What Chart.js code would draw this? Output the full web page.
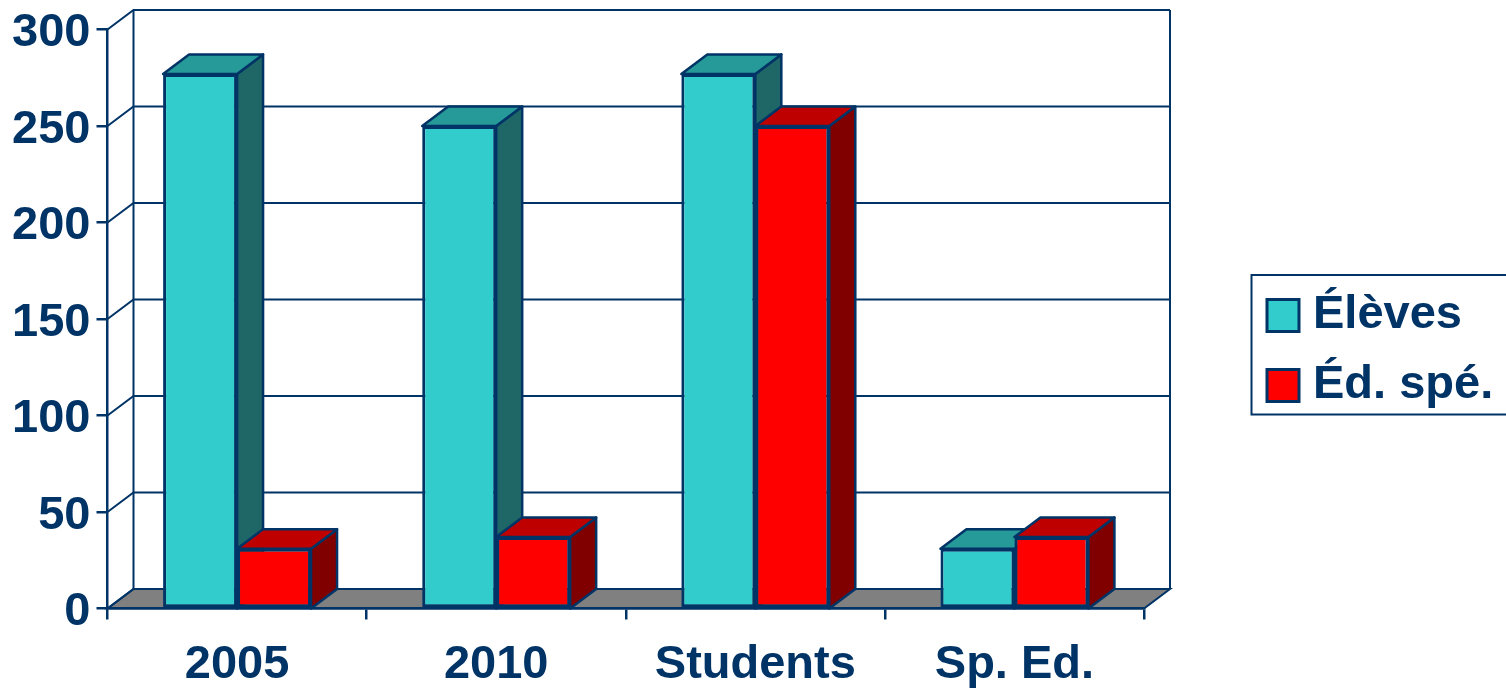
<!DOCTYPE html>
<html>
<head>
<meta charset="utf-8">
<style>
  html, body { margin: 0; padding: 0; background: #fff; overflow: hidden; }
  #box { position: relative; width: 1506px; height: 689px; }
</style>
<script src="https://cdn.jsdelivr.net/npm/chart.js@4"></script>
</head>
<body>
<div id="box"><canvas id="myChart"></canvas></div>
<script>
const categories = ['2005', '2010', 'Students', 'Sp. Ed.'];
const eleves = [277, 250, 277, 31];
const edSpe = [31, 37, 250, 37];
const seriesNames = ['Élèves', 'Éd. spé.'];
const yTicks = [0, 50, 100, 150, 200, 250, 300];

const navy = '#003366';
const fontName = '"Liberation Sans", Arial, sans-serif';
const depthX = 26;
const depthY = -19.5;

function line(ctx, pts) {
    ctx.beginPath();
    ctx.moveTo(pts[0][0], pts[0][1]);
    for (let i = 1; i < pts.length; i++) ctx.lineTo(pts[i][0], pts[i][1]);
}

// top and side faces of the bars of one dataset
function drawFaces(chart, index) {
    const ctx = chart.ctx;
    const ds = chart.data.datasets[index];
    const zero = chart.scales.y.getPixelForValue(0);
    ctx.save();
    ctx.strokeStyle = navy;
    ctx.lineWidth = 2.5;
    ctx.lineJoin = 'round';
    chart.getDatasetMeta(index).data.forEach(bar => {
        const l = bar.x - bar.width / 2;
        const r = bar.x + bar.width / 2;
        line(ctx, [[r, bar.y], [r + depthX, bar.y + depthY], [r + depthX, zero + depthY], [r, zero]]);
        ctx.closePath();
        ctx.fillStyle = ds.sideColor;
        ctx.fill();
        ctx.stroke();
        line(ctx, [[l, bar.y], [l + depthX, bar.y + depthY], [r + depthX, bar.y + depthY], [r, bar.y]]);
        ctx.closePath();
        ctx.fillStyle = ds.topColor;
        ctx.fill();
        ctx.stroke();
    });
    ctx.restore();
}

// back wall, side wall and floor of the 3d box
const walls = {
    id: 'walls',
    beforeDraw(chart) {
        const ctx = chart.ctx;
        const a = chart.chartArea;
        const y = chart.scales.y;
        ctx.save();
        ctx.fillStyle = '#fff';
        ctx.fillRect(0, 0, chart.width, chart.height);
        line(ctx, [[a.left, a.bottom], [a.left + depthX, a.bottom + depthY], [a.right + depthX, a.bottom + depthY], [a.right, a.bottom]]);
        ctx.closePath();
        ctx.fillStyle = '#808080';
        ctx.fill();
        ctx.strokeStyle = navy;
        ctx.lineWidth = 2;
        ctx.stroke();
        yTicks.forEach(t => {
            const py = y.getPixelForValue(t);
            line(ctx, [[a.left, py], [a.left + depthX, py + depthY], [a.right + depthX, py + depthY]]);
            ctx.stroke();
        });
        line(ctx, [[a.left + depthX, a.top + depthY], [a.left + depthX, a.bottom + depthY]]);
        ctx.stroke();
        line(ctx, [[a.right + depthX, a.top + depthY], [a.right + depthX, a.bottom + depthY]]);
        ctx.stroke();
        ctx.restore();
    },
    afterLayout(chart) {
        // move the legend to its frame on the right
        const l = chart.legend;
        l.left = 1253.5;
        l.right = 1506;
        l.top = 269;
        l.bottom = 689;
    },
    afterDraw(chart) {
        const ctx = chart.ctx;
        ctx.save();
        ctx.strokeStyle = navy;
        ctx.lineWidth = 2;
        ctx.strokeRect(1251.5, 275, 260, 139.5);
        ctx.restore();
    },
    // chart.js paints the last dataset first, so the teal faces go under everything
    beforeDatasetsDraw(chart) {
        drawFaces(chart, 0);
    },
    afterDatasetDraw(chart, args) {
        if (args.index === 1) drawFaces(chart, 1);
    }
};

new Chart('myChart', {
    type: 'bar',
    data: {
        labels: categories,
        datasets: [{
            label: seriesNames[0],
            data: eleves,
            backgroundColor: '#33CCCC',
            sideColor: '#1F6666',
            topColor: '#269999',
            borderColor: navy,
            borderWidth: 3,
            borderSkipped: false
        }, {
            label: seriesNames[1],
            data: edSpe,
            backgroundColor: '#FF0000',
            sideColor: '#800000',
            topColor: '#BF0000',
            borderColor: navy,
            borderWidth: 3,
            borderSkipped: false
        }]
    },
    options: {
        responsive: true,
        maintainAspectRatio: false,
        animation: false,
        categoryPercentage: 0.571,
        barPercentage: 1,
        layout: { padding: { top: 29.5, right: 362, left: 0, bottom: 0 } },
        plugins: {
            tooltip: { enabled: false },
            legend: {
                position: 'chartArea',
                align: 'start',
                labels: {
                    color: navy,
                    font: { family: fontName, size: 47, weight: 'bold' },
                    usePointStyle: true,
                    pointStyle: 'rect',
                    boxWidth: 13,
                    boxHeight: 32,
                    padding: 23
                }
            }
        },
        scales: {
            x: {
                afterFit(s) { s.height = 80.5; s.paddingLeft = 0; s.paddingRight = 0; },
                grid: { drawOnChartArea: false, color: navy, lineWidth: 2.5, tickLength: 11 },
                border: { color: navy, width: 2.5 },
                ticks: { color: navy, padding: 17.5, maxRotation: 0, font: { family: fontName, size: 47, weight: 'bold' } }
            },
            y: {
                min: 0,
                max: 300,
                afterFit(s) { s.width = 107.5; s.paddingTop = 0; s.paddingBottom = 0; },
                afterBuildTicks(s) { s.ticks = yTicks.map(v => ({ value: v })); },
                grid: { drawOnChartArea: false, color: navy, lineWidth: 2.5, tickLength: 11 },
                border: { color: navy, width: 2.5 },
                ticks: { color: navy, padding: 6, labelOffset: 4, font: { family: fontName, size: 47, weight: 'bold' } }
            }
        }
    },
    plugins: [walls]
});
</script>
</body>
</html>
